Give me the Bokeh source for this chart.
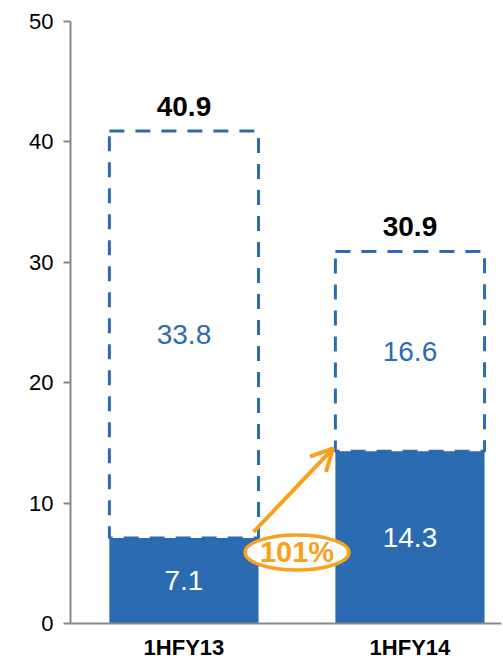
from bokeh.plotting import figure
from bokeh.models import Range1d, FixedTicker, Arrow, OpenHead
from bokeh.core.properties import value
from bokeh.embed import file_html
from bokeh.resources import INLINE

# ---- data ----
categories = ["1HFY13", "1HFY14"]
solid_values = [7.1, 14.3]
outline_values = [33.8, 16.6]
totals = [40.9, 30.9]
y_ticks = [0, 10, 20, 30, 40, 50]

BLUE = "#2B6BB2"
ORANGE = "#F7A11C"
AXIS_GRAY = "#888888"
FONT = "Liberation Sans"

pos = [i + 1 for i in range(len(categories))]
bar_w = 0.66
outline_top = [s + o for s, o in zip(solid_values, outline_values)]
growth = solid_values[1] / solid_values[0] - 1
growth_label = f"{growth * 100:.0f}%"

p = figure(width=503, height=662, output_backend="svg", toolbar_location=None,
           x_range=Range1d(0.498, 2.405), y_range=Range1d(0, 50),
           min_border_left=70, min_border_right=2, min_border_top=21,
           min_border_bottom=38)
p.outline_line_color = None
p.grid.visible = False
p.background_fill_color = "white"
p.border_fill_color = "white"

# solid bars
p.vbar(x=pos, top=solid_values, bottom=0, width=bar_w,
       fill_color=BLUE, line_color=None)
# dashed outline segments
p.quad(left=[x - bar_w / 2 for x in pos], right=[x + bar_w / 2 for x in pos],
       bottom=solid_values, top=outline_top, fill_color=None,
       line_color=BLUE, line_width=3, line_dash="15 11")

# inner labels
p.text(x=pos, y=[s / 2 for s in solid_values], text=[f"{v}" for v in solid_values],
       text_color="white", text_font=value(FONT), text_font_size="28px",
       text_align="center", text_baseline="middle")
p.text(x=pos, y=[s + o / 2 for s, o in zip(solid_values, outline_values)],
       text=[f"{v}" for v in outline_values],
       text_color=BLUE, text_font=value(FONT), text_font_size="28px",
       text_align="center", text_baseline="middle")
# totals
p.text(x=pos, y=totals, text=[f"{v}" for v in totals],
       text_color="black", text_font=value(FONT), text_font_size="28px",
       text_font_style="bold", text_align="center", text_baseline="alphabetic",
       y_offset=-25)

# growth arrow
p.add_layout(Arrow(end=OpenHead(size=22, line_color=ORANGE, line_width=4),
                   x_start=pos[0] + bar_w / 2 - 0.022, y_start=solid_values[0] + 0.5,
                   x_end=pos[1] - bar_w / 2 - 0.01, y_end=solid_values[1] + 0.25,
                   line_color=ORANGE, line_width=4))

mid_x = (pos[0] + pos[1]) / 2
p.ellipse(x=[mid_x], y=[solid_values[0] - 1.2], width=104, height=35,
          width_units="screen", height_units="screen",
          fill_color="white", line_color=ORANGE, line_width=3.5)
p.text(x=[mid_x], y=[solid_values[0] - 1.2], text=[growth_label],
       text_color=ORANGE, text_font=value(FONT), text_font_size="29px",
       text_font_style="bold", text_align="center", text_baseline="middle")

# axes
p.yaxis.ticker = FixedTicker(ticks=y_ticks)
p.yaxis.axis_line_color = AXIS_GRAY
p.yaxis.axis_line_width = 2
p.yaxis.major_tick_line_color = AXIS_GRAY
p.yaxis.major_tick_line_width = 2
p.yaxis.major_tick_out = 7
p.yaxis.major_tick_in = 0
p.yaxis.minor_tick_line_color = None
p.yaxis.major_label_text_font = FONT
p.yaxis.major_label_text_font_size = "22px"
p.yaxis.major_label_text_color = "black"
p.yaxis.major_label_standoff = 10

p.xaxis.ticker = FixedTicker(ticks=pos)
p.xaxis.major_label_overrides = {x: c for x, c in zip(pos, categories)}
p.xaxis.axis_line_color = AXIS_GRAY
p.xaxis.axis_line_width = 2
p.xaxis.major_tick_line_color = None
p.xaxis.minor_tick_line_color = None
p.xaxis.major_label_text_font = FONT
p.xaxis.major_label_text_font_size = "22px"
p.xaxis.major_label_text_font_style = "bold"
p.xaxis.major_label_text_color = "black"
p.xaxis.major_label_standoff = 5

open("out.html", "w").write(file_html(p, INLINE))
